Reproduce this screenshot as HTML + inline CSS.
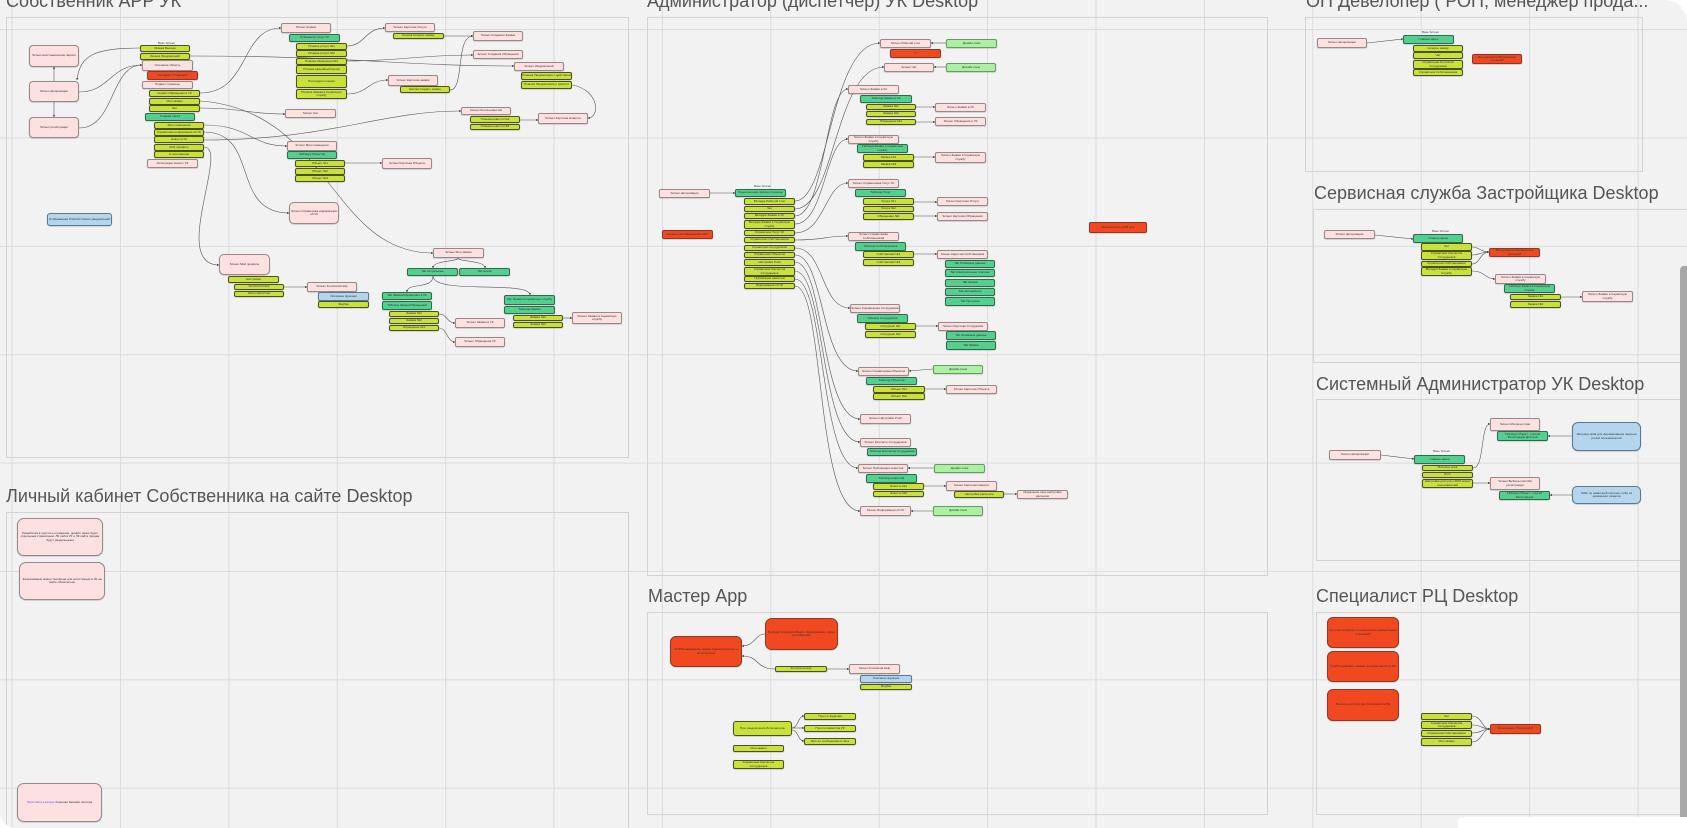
<!DOCTYPE html>
<html><head><meta charset="utf-8">
<style>
html,body{margin:0;padding:0;background:#fff;}
#c{position:relative;width:1687px;height:828px;overflow:hidden;background-color:#f2f2f2;
background-image:linear-gradient(to right,#dcdcdc 1px,transparent 1px),linear-gradient(to bottom,#dcdcdc 1px,transparent 1px);
background-size:108.4px 108.4px;background-position:11.6px 29px;border-radius:0 22px 0 16px;
font-family:"Liberation Sans","Noto Sans CJK SC",sans-serif;}
.f{position:absolute;border:1.5px solid #d4d4d4;box-sizing:border-box;}
.t{position:absolute;font-size:18px;line-height:18px;color:#555;white-space:nowrap;}
.n{position:absolute;box-sizing:border-box;border:1px solid #777;border-radius:2px;font-size:3px;line-height:3.4px;color:#333;display:flex;align-items:center;justify-content:center;text-align:center;overflow:hidden;box-shadow:0 0.5px 1px rgba(0,0,0,.25);}
.p{background:#fde1e1;border-color:#9a8888;}
.y{background:#c9e13a;border-color:#4b5222;}
.g{background:#53cf8e;border-color:#2f6a4c;}
.r{background:#f1481f;border-color:#8a3a2a;}
.l{background:#aaf1a1;border-color:#6a9a66;}
.b{background:#b3d5ee;border-color:#5a7a90;}
.lb{position:absolute;font-size:3px;color:#444;}
svg{position:absolute;left:0;top:0;}
</style></head><body>
<div id="c">
<!-- frames -->
<div class="f" style="left:6px;top:17px;width:623px;height:441px"></div>
<div class="f" style="left:647px;top:17px;width:621px;height:559px"></div>
<div class="f" style="left:1305px;top:17px;width:338px;height:155px"></div>
<div class="f" style="left:1313px;top:209px;width:380px;height:154px"></div>
<div class="f" style="left:1316px;top:399px;width:380px;height:162px"></div>
<div class="f" style="left:6px;top:512px;width:623px;height:330px"></div>
<div class="f" style="left:647px;top:612px;width:621px;height:203px"></div>
<div class="f" style="left:1316px;top:612px;width:380px;height:203px"></div>
<!-- titles -->
<div class="t" style="left:6px;top:-8px">Собственник APP УК</div>
<div class="t" style="left:647px;top:-8px">Администратор (диспетчер) УК Desktop</div>
<div class="t" style="left:1306px;top:-8px">ОП Девелопер ( РОП, менеджер прода...</div>
<div class="t" style="left:1314px;top:184px">Сервисная служба Застройщика Desktop</div>
<div class="t" style="left:1316px;top:375px">Системный Администратор УК Desktop</div>
<div class="t" style="left:6px;top:487px">Личный кабинет Собственника на сайте Desktop</div>
<div class="t" style="left:648px;top:587px">Мастер App</div>
<div class="t" style="left:1316px;top:587px">Специалист РЦ Desktop</div>

<svg width="1687" height="828" viewBox="0 0 1687 828">
<defs><marker id="a" markerWidth="4" markerHeight="4" refX="3.5" refY="2" orient="auto"><path d="M0,0 L4,2 L0,4 z" fill="#444"/></marker></defs>
<g fill="none" stroke="#555" stroke-width="0.6" marker-end="url(#a)">
<!-- frame 1 -->
<path d="M54 81 L54 67"/>
<path d="M54 102 L54 117"/>
<path d="M79 92 C110 92,110 65,142 65"/>
<path d="M79 128 C115 128,110 65,142 65"/>
<path d="M140 48 C95 48,80 55,77 80"/>
<path d="M190 56 C350 56,400 66,514 66"/>
<path d="M200 93 C250 93,240 28,281 28"/>
<path d="M200 101 C330 110,330 253,433 253"/>
<path d="M200 108 C240 108,250 114,285 114"/>
<path d="M204 125 C250 125,250 146,287 146"/>
<path d="M204 132 C260 132,230 213,289 213"/>
<path d="M204 140 C330 140,380 111,461 111"/>
<path d="M204 147 C230 147,170 265,219 265"/>
<path d="M347 46 C365 46,365 28,385 28"/>
<path d="M444 36 L473 36"/>
<path d="M347 61 C400 61,420 55,473 55"/>
<path d="M347 94 C368 94,368 80,388 80"/>
<path d="M450 90 C465 90,455 36,473 36"/>
<path d="M572 85 C600 90,600 118,588 118"/>
<path d="M520 120 L538 120"/>
<path d="M345 163 L382 163"/>
<path d="M284 287 L307 287"/>
<path d="M458 258 C458 262,433 260,433 268"/>
<path d="M458 258 C458 262,485 260,485 268"/>
<path d="M433 276 C433 290,407 282,407 292"/>
<path d="M433 276 C433 295,530 280,530 295"/>
<path d="M439 314 C447 314,447 323,455 323"/>
<path d="M439 328 C447 328,447 342,455 342"/>
<path d="M563 318 L572 318"/>
<!-- admin -->
<path d="M710 193 L735 193"/>
<path d="M795 201 C830 201,830 43,880 43"/>
<path d="M795 209 C835 209,835 67,884 67"/>
<path d="M795 216 C825 216,825 89,848 89"/>
<path d="M795 224 C825 224,825 139,848 139"/>
<path d="M795 233 C825 233,825 183,848 183"/>
<path d="M795 240 C825 240,825 236,848 236"/>
<path d="M795 248 C825 248,820 308,850 308"/>
<path d="M795 255 C825 255,820 371,858 371"/>
<path d="M795 262 C825 262,820 419,860 419"/>
<path d="M795 271 C825 271,820 442,860 442"/>
<path d="M795 279 C825 279,820 468,858 468"/>
<path d="M795 286 C825 286,815 511,860 511"/>
<path d="M946 43 L931 43"/><path d="M946 67 L934 67"/>
<path d="M916 107 L935 107"/><path d="M916 122 L935 122"/>
<path d="M914 157 L935 157"/><path d="M914 202 L937 202"/><path d="M914 216 L937 216"/>
<path d="M906 254 L937 254"/><path d="M916 326 L938 326"/>
<path d="M933 369 L909 371"/><path d="M925 389 L946 389"/>
<path d="M934 468 L908 468"/><path d="M924 486 L946 486"/><path d="M1004 494 L1017 494"/>
<path d="M933 511 L911 511"/>
<!-- OP -->
<path d="M1367 43 L1403 39"/>
<!-- service -->
<path d="M1375 235 L1413 239"/>
<path d="M1472 247 C1480 247,1480 252,1489 252"/>
<path d="M1472 255 C1480 255,1480 252,1489 252"/>
<path d="M1472 264 C1480 264,1480 252,1489 252"/>
<path d="M1472 271 C1485 271,1485 279,1495 279"/>
<path d="M1561 297 L1582 297"/>
<!-- sysadmin -->
<path d="M1381 455 L1414 459"/>
<path d="M1473 468 C1485 468,1480 424,1490 424"/>
<path d="M1473 483 L1490 483"/>
<path d="M1572 436 L1548 436"/>
<path d="M1572 495 L1550 495"/>
<!-- specialist -->
<path d="M1472 716 C1482 716,1482 729,1490 729"/>
<path d="M1472 725 C1482 725,1482 729,1490 729"/>
<path d="M1472 733 C1482 733,1482 729,1490 729"/>
<path d="M1472 742 C1482 742,1482 729,1490 729"/>
<!-- master -->
<path d="M765 634 C755 634,755 646,742 646"/>
<path d="M775 669 C755 669,760 656,742 656"/>
<path d="M827 669 L849 669"/>
<path d="M792 728 C798 728,798 716,804 716"/>
<path d="M792 728 L804 728"/>
<path d="M792 730 C798 730,798 741,804 741"/>
</g>
</svg>

<!-- frame 1 nodes -->
<div class="n p" style="left:29px;top:45px;width:50px;height:22px;border-radius:4px">Screen восстановления пароля</div>
<div class="n p" style="left:29px;top:81px;width:50px;height:21px;border-radius:4px">Screen авторизации</div>
<div class="n p" style="left:29px;top:117px;width:50px;height:21px;border-radius:4px">Screen регистрации</div>
<div class="lb" style="left:158px;top:41px">Base Screen</div>
<div class="n y" style="left:140px;top:45px;width:50px;height:7px">Иконка Выхода</div>
<div class="n y" style="left:140px;top:53px;width:50px;height:7px">Иконка Уведомлений</div>
<div class="n p" style="left:142px;top:60px;width:51px;height:11px">Основная область</div>
<div class="n r" style="left:147px;top:71px;width:51px;height:9px">Что здесь ? Главная?</div>
<div class="n p" style="left:142px;top:81px;width:51px;height:8px">Подвал страницы</div>
<div class="n y" style="left:149px;top:90px;width:51px;height:7px">Сервис Обращения в УК</div>
<div class="n y" style="left:149px;top:98px;width:51px;height:7px">Мои заявки</div>
<div class="n y" style="left:149px;top:105px;width:51px;height:7px">Чат</div>
<div class="n g" style="left:145px;top:113px;width:50px;height:8px">Главная папка</div>
<div class="n y" style="left:154px;top:122px;width:50px;height:7px">Мои помещения</div>
<div class="n y" style="left:154px;top:129px;width:50px;height:7px">Справочная информация об УК</div>
<div class="n y" style="left:154px;top:136px;width:50px;height:7px">Новости УК</div>
<div class="n y" style="left:154px;top:144px;width:50px;height:7px">Мой профиль</div>
<div class="n y" style="left:154px;top:151px;width:50px;height:7px">О приложении</div>
<div class="n p" style="left:147px;top:159px;width:51px;height:9px">Интеграция связи с УК</div>
<div class="n b" style="left:47px;top:213px;width:65px;height:13px;border-radius:3px">Отображение Push'ей Список уведомлений</div>
<div class="n p" style="left:281px;top:23px;width:50px;height:10px">Screen Сервис</div>
<div class="n g" style="left:289px;top:34px;width:51px;height:8px">Рубрикатор услуг УК</div>
<div class="n y" style="left:296px;top:43px;width:51px;height:7px">Плашка услуги №1</div>
<div class="n y" style="left:296px;top:50px;width:51px;height:7px">Плашка услуги №2</div>
<div class="n y" style="left:296px;top:58px;width:51px;height:7px">Плашка обращения №1</div>
<div class="n y" style="left:296px;top:65px;width:51px;height:9px">Плашка аварийный вызов</div>
<div class="n y" style="left:296px;top:75px;width:51px;height:13px">Последняя плашка</div>
<div class="n y" style="left:296px;top:89px;width:51px;height:10px">Плашка Заявка в Сервисную службу</div>
<div class="n p" style="left:285px;top:109px;width:51px;height:9px">Screen Чат</div>
<div class="n p" style="left:287px;top:141px;width:50px;height:10px">Screen Мои помещения</div>
<div class="n g" style="left:287px;top:151px;width:50px;height:8px">Таблица Объектов</div>
<div class="n y" style="left:295px;top:160px;width:50px;height:7px">Объект №1</div>
<div class="n y" style="left:295px;top:168px;width:50px;height:7px">Объект №2</div>
<div class="n y" style="left:295px;top:175px;width:50px;height:7px">Объект №3</div>
<div class="n p" style="left:382px;top:158px;width:50px;height:11px">Screen Карточка Объекта</div>
<div class="n p" style="left:289px;top:202px;width:50px;height:22px;border-radius:5px">Screen Справочная информация об УК</div>
<div class="n p" style="left:219px;top:254px;width:51px;height:21px;border-radius:5px">Screen Мой профиль</div>
<div class="n y" style="left:228px;top:276px;width:51px;height:7px">Настройки</div>
<div class="n y" style="left:234px;top:284px;width:50px;height:6px">Functional Help</div>
<div class="n y" style="left:234px;top:291px;width:50px;height:6px">Настройки Push</div>
<div class="n p" style="left:307px;top:282px;width:50px;height:10px">Screen Functional Help</div>
<div class="n b" style="left:318px;top:292px;width:51px;height:9px">Описание функции</div>
<div class="n y" style="left:318px;top:301px;width:51px;height:7px">Фидбэк</div>
<div class="n p" style="left:385px;top:23px;width:50px;height:9px">Screen Карточка Услуги</div>
<div class="n y" style="left:393px;top:33px;width:51px;height:6px">Кнопка Создать заявку</div>
<div class="n p" style="left:473px;top:31px;width:50px;height:10px">Screen Создания Заявки</div>
<div class="n p" style="left:473px;top:50px;width:50px;height:9px">Screen Создания Обращения</div>
<div class="n p" style="left:514px;top:62px;width:50px;height:9px">Screen Уведомлений</div>
<div class="n y" style="left:521px;top:72px;width:51px;height:8px">Плашка Уведомления с действием</div>
<div class="n y" style="left:521px;top:81px;width:51px;height:8px">Плашка Уведомления о новости</div>
<div class="n p" style="left:388px;top:75px;width:50px;height:11px">Screen Карточка заявки</div>
<div class="n y" style="left:400px;top:86px;width:50px;height:7px">Кнопка Создать заявку</div>
<div class="n p" style="left:461px;top:107px;width:50px;height:8px">Screen Лента новостей</div>
<div class="n y" style="left:470px;top:116px;width:50px;height:7px">Плашка новости №1</div>
<div class="n y" style="left:470px;top:124px;width:50px;height:6px">Плашка новости №2</div>
<div class="n p" style="left:538px;top:113px;width:50px;height:11px">Screen Карточка Новости</div>
<div class="n p" style="left:433px;top:248px;width:51px;height:10px">Screen Мои заявки</div>
<div class="n g" style="left:407px;top:268px;width:51px;height:8px">Tab Актуальные</div>
<div class="n g" style="left:459px;top:268px;width:51px;height:8px">Tab Архив</div>
<div class="n g" style="left:382px;top:292px;width:50px;height:8px">Tab Заявки/Обращения в УК</div>
<div class="n g" style="left:382px;top:301px;width:50px;height:9px">Таблица Заявок/Обращений</div>
<div class="n y" style="left:389px;top:311px;width:50px;height:6px">Заявка №1</div>
<div class="n y" style="left:389px;top:318px;width:50px;height:6px">Заявка №2</div>
<div class="n y" style="left:389px;top:325px;width:50px;height:6px">Обращение №1</div>
<div class="n p" style="left:455px;top:318px;width:50px;height:10px">Screen Заявки в УК</div>
<div class="n p" style="left:455px;top:337px;width:50px;height:10px">Screen Обращения УК</div>
<div class="n g" style="left:504px;top:295px;width:51px;height:10px">Tab Заявки в Сервисную службу</div>
<div class="n g" style="left:504px;top:306px;width:51px;height:8px">Таблица Заявок</div>
<div class="n y" style="left:513px;top:315px;width:50px;height:6px">Заявка №1</div>
<div class="n y" style="left:513px;top:322px;width:50px;height:6px">Заявка №2</div>
<div class="n p" style="left:572px;top:312px;width:50px;height:12px">Screen Заявки в Сервисную службу</div>

<!-- Личный кабинет -->
<div class="n p" style="left:17px;top:518px;width:86px;height:38px;border-radius:7px">Разработка в простого отражения, дизайн также будет отдельным страничным. ЛК сайта УК и ЛК сайта продаж будут раздельными</div>
<div class="n p" style="left:19px;top:562px;width:86px;height:38px;border-radius:7px">Запрашиваем номер телефона для регистрации в ЛК на сайте обязательно</div>
<div class="n p" style="left:17px;top:783px;width:85px;height:39px;border-radius:7px"><span style="color:#55f">https://docs.example</span>&nbsp;Хорошая базовая палитра</div>

<!-- admin -->
<div class="n p" style="left:659px;top:189px;width:51px;height:9px">Screen авторизации</div>
<div class="n r" style="left:662px;top:230px;width:51px;height:9px">Справочник Обращений в ЕГ?</div>
<div class="lb" style="left:754px;top:184px">Base Screen</div>
<div class="n g" style="left:735px;top:189px;width:51px;height:8px">Переключение Шапка страницы</div>
<div class="n y" style="left:744px;top:198px;width:51px;height:7px">Вкладка Рабочий стол</div>
<div class="n y" style="left:744px;top:206px;width:51px;height:6px">Чат</div>
<div class="n y" style="left:744px;top:213px;width:51px;height:6px">Вкладка Заявки в УК</div>
<div class="n y" style="left:744px;top:220px;width:51px;height:9px">Вкладка Заявки в Сервисную службу</div>
<div class="n y" style="left:744px;top:230px;width:51px;height:6px">Справочник Услуг УК</div>
<div class="n y" style="left:744px;top:237px;width:51px;height:6px">Справочник Собственников</div>
<div class="n y" style="left:744px;top:245px;width:51px;height:6px">Справочник Сотрудников</div>
<div class="n y" style="left:744px;top:252px;width:51px;height:6px">Справочник Объектов</div>
<div class="n y" style="left:744px;top:259px;width:51px;height:7px">Настройки Push</div>
<div class="n y" style="left:744px;top:267px;width:51px;height:9px">Справочник Контактов Сотрудников</div>
<div class="n y" style="left:744px;top:276px;width:51px;height:6px">Публикация новостей</div>
<div class="n y" style="left:744px;top:283px;width:51px;height:6px">Информация об УК</div>
<div class="n p" style="left:880px;top:39px;width:51px;height:9px">Screen Рабочий стол</div>
<div class="n r" style="left:890px;top:49px;width:51px;height:9px">?</div>
<div class="n l" style="left:946px;top:39px;width:51px;height:9px">Дизайн схем</div>
<div class="n p" style="left:884px;top:63px;width:50px;height:9px">Screen Чат</div>
<div class="n l" style="left:946px;top:63px;width:50px;height:9px">Дизайн схем</div>
<div class="n p" style="left:848px;top:85px;width:51px;height:9px">Screen Заявки в УК</div>
<div class="n g" style="left:860px;top:95px;width:52px;height:8px">Таблица Заявок в УК</div>
<div class="n y" style="left:866px;top:104px;width:50px;height:6px">Заявка №1</div>
<div class="n y" style="left:866px;top:111px;width:50px;height:6px">Заявка №2</div>
<div class="n y" style="left:866px;top:119px;width:50px;height:6px">Обращение №1</div>
<div class="n p" style="left:935px;top:103px;width:51px;height:9px">Screen Заявки в УК</div>
<div class="n p" style="left:935px;top:117px;width:51px;height:9px">Screen Обращения в УК</div>
<div class="n p" style="left:848px;top:135px;width:51px;height:9px">Screen Заявки в Сервисную службу</div>
<div class="n g" style="left:857px;top:144px;width:51px;height:9px">Таблица Заявки в Сервисную службу</div>
<div class="n y" style="left:863px;top:154px;width:51px;height:7px">Заявка №1</div>
<div class="n y" style="left:863px;top:161px;width:51px;height:7px">Заявка №2</div>
<div class="n p" style="left:935px;top:152px;width:51px;height:11px">Screen Заявки в Сервисную службу</div>
<div class="n p" style="left:848px;top:179px;width:51px;height:9px">Screen Справочника Услуг УК</div>
<div class="n g" style="left:855px;top:189px;width:51px;height:8px">Таблица Услуг</div>
<div class="n y" style="left:863px;top:198px;width:51px;height:7px">Услуга №1</div>
<div class="n y" style="left:863px;top:206px;width:51px;height:6px">Услуга №2</div>
<div class="n y" style="left:863px;top:213px;width:51px;height:7px">Обращение №1</div>
<div class="n p" style="left:937px;top:197px;width:51px;height:9px">Screen Карточки Услуги</div>
<div class="n p" style="left:937px;top:212px;width:51px;height:9px">Screen Карточки Обращения</div>
<div class="n p" style="left:848px;top:232px;width:51px;height:9px">Screen Справочника Собственников</div>
<div class="n g" style="left:855px;top:242px;width:51px;height:9px">Таблица Собственников</div>
<div class="n y" style="left:863px;top:251px;width:51px;height:7px">Собственник №1</div>
<div class="n y" style="left:863px;top:259px;width:51px;height:7px">Собственник №2</div>
<div class="n p" style="left:937px;top:250px;width:51px;height:9px">Screen Карточки Собственника</div>
<div class="n g" style="left:945px;top:260px;width:50px;height:8px">Tab Основные данные</div>
<div class="n g" style="left:945px;top:269px;width:50px;height:8px">Tab Коммунальные платежи</div>
<div class="n g" style="left:945px;top:279px;width:50px;height:8px">Tab Заявки</div>
<div class="n g" style="left:945px;top:288px;width:50px;height:8px">Tab Автомобили</div>
<div class="n g" style="left:945px;top:297px;width:50px;height:9px">Tab Пропуска</div>
<div class="n p" style="left:850px;top:304px;width:50px;height:9px">Screen Справочника Сотрудников</div>
<div class="n g" style="left:857px;top:314px;width:51px;height:9px">Таблица Сотрудников</div>
<div class="n y" style="left:865px;top:323px;width:51px;height:7px">Сотрудник №1</div>
<div class="n y" style="left:865px;top:331px;width:51px;height:7px">Сотрудник №2</div>
<div class="n p" style="left:938px;top:322px;width:50px;height:9px">Screen Карточки Сотрудника</div>
<div class="n g" style="left:946px;top:331px;width:50px;height:9px">Tab Основные данные</div>
<div class="n g" style="left:946px;top:341px;width:50px;height:9px">Tab Заявки</div>
<div class="n p" style="left:858px;top:367px;width:51px;height:9px">Screen Справочника Объектов</div>
<div class="n l" style="left:933px;top:365px;width:50px;height:9px">Дизайн схем</div>
<div class="n g" style="left:866px;top:377px;width:51px;height:8px">Таблица Объектов</div>
<div class="n y" style="left:873px;top:386px;width:52px;height:7px">Объект №1</div>
<div class="n y" style="left:873px;top:393px;width:52px;height:7px">Объект №2</div>
<div class="n p" style="left:946px;top:385px;width:51px;height:9px">Screen Карточки Объекта</div>
<div class="n p" style="left:860px;top:414px;width:51px;height:10px">Screen Настройки Push</div>
<div class="n p" style="left:860px;top:438px;width:51px;height:9px">Screen Контакты Сотрудников</div>
<div class="n g" style="left:867px;top:448px;width:50px;height:8px">Таблица Контактов Сотрудников</div>
<div class="n p" style="left:858px;top:464px;width:50px;height:9px">Screen Публикации новостей</div>
<div class="n l" style="left:934px;top:464px;width:51px;height:9px">Дизайн схем</div>
<div class="n g" style="left:866px;top:474px;width:51px;height:9px">Таблица новостей</div>
<div class="n y" style="left:873px;top:483px;width:51px;height:7px">Новость №1</div>
<div class="n y" style="left:873px;top:491px;width:51px;height:6px">Новость №2</div>
<div class="n p" style="left:946px;top:481px;width:51px;height:10px">Screen Карточки Новости</div>
<div class="n y" style="left:954px;top:491px;width:50px;height:7px">Настройка рассылки</div>
<div class="n p" style="left:1017px;top:490px;width:51px;height:9px">Модальное окно настройки рассылки</div>
<div class="n p" style="left:860px;top:506px;width:51px;height:10px">Screen Информация об УК</div>
<div class="n l" style="left:933px;top:506px;width:50px;height:10px">Дизайн схем</div>
<div class="n r" style="left:1089px;top:222px;width:58px;height:11px">Безопасность АРМ для</div>

<!-- ОП -->
<div class="n p" style="left:1317px;top:38px;width:50px;height:10px">Screen авторизации</div>
<div class="lb" style="left:1422px;top:30px">Base Screen</div>
<div class="n g" style="left:1403px;top:35px;width:51px;height:9px">Главное меню</div>
<div class="n y" style="left:1413px;top:45px;width:50px;height:7px">Создать заявку</div>
<div class="n y" style="left:1413px;top:52px;width:50px;height:7px">Чат</div>
<div class="n y" style="left:1413px;top:60px;width:50px;height:9px">Справочник Контактов Сотрудников</div>
<div class="n y" style="left:1413px;top:69px;width:50px;height:7px">Справочник Собственников</div>
<div class="n r" style="left:1472px;top:54px;width:50px;height:10px">Все решается Битриксом в срочном?</div>

<!-- Сервисная -->
<div class="n p" style="left:1324px;top:230px;width:51px;height:9px">Screen авторизации</div>
<div class="lb" style="left:1432px;top:229px">Base Screen</div>
<div class="n g" style="left:1413px;top:234px;width:50px;height:9px">Главное меню</div>
<div class="n y" style="left:1421px;top:243px;width:51px;height:8px">Чат</div>
<div class="n y" style="left:1421px;top:251px;width:51px;height:9px">Справочник Контактов Сотрудников</div>
<div class="n y" style="left:1421px;top:261px;width:51px;height:6px">Справочник Собственников</div>
<div class="n y" style="left:1421px;top:267px;width:51px;height:9px">Вкладка Заявки в Сервисную Службу</div>
<div class="n r" style="left:1489px;top:248px;width:51px;height:9px">Все решается Битриксом в срочном?</div>
<div class="n p" style="left:1495px;top:274px;width:51px;height:10px">Screen Заявки в Сервисную службу</div>
<div class="n g" style="left:1504px;top:284px;width:51px;height:9px">Таблица Заявок в Сервисную службу</div>
<div class="n y" style="left:1510px;top:294px;width:51px;height:6px">Заявка №1</div>
<div class="n y" style="left:1510px;top:301px;width:51px;height:7px">Заявка №2</div>
<div class="n p" style="left:1582px;top:291px;width:51px;height:11px">Screen Заявки в Сервисную службу</div>

<!-- Системный -->
<div class="n p" style="left:1329px;top:450px;width:52px;height:10px">Screen авторизации</div>
<div class="lb" style="left:1433px;top:449px">Base Screen</div>
<div class="n g" style="left:1414px;top:455px;width:51px;height:9px">Главное меню</div>
<div class="n y" style="left:1422px;top:465px;width:51px;height:6px">Матрица прав</div>
<div class="n y" style="left:1422px;top:472px;width:51px;height:6px">Логи</div>
<div class="n y" style="left:1422px;top:479px;width:51px;height:9px">Настройка доступа к АРМ новых пользователей</div>
<div class="n p" style="left:1490px;top:418px;width:50px;height:13px">Screen Матрица прав</div>
<div class="n g" style="left:1497px;top:431px;width:51px;height:10px">Таблица Объект - способ Регистрации Доступа</div>
<div class="n b" style="left:1572px;top:422px;width:69px;height:29px;border-radius:6px">Матрица прав для формирования перечня ролей пользователей</div>
<div class="n p" style="left:1490px;top:477px;width:50px;height:13px">Screen Выбора способа регистрации</div>
<div class="n g" style="left:1499px;top:491px;width:51px;height:9px">Таблица Объект - способ Регистрации</div>
<div class="n b" style="left:1572px;top:486px;width:69px;height:18px;border-radius:5px">Либо по заявочной системе, либо из домашнего раздела</div>

<!-- Специалист -->
<div class="n r" style="left:1327px;top:617px;width:72px;height:31px;border-radius:6px">Что ещё требуется от начисления коммунальных платежей?</div>
<div class="n r" style="left:1327px;top:651px;width:72px;height:31px;border-radius:6px">В АРМ направить заявки по вопросам РЦ в УК</div>
<div class="n r" style="left:1327px;top:689px;width:72px;height:32px;border-radius:6px">Вопросы доступа для Специалиста РЦ</div>
<div class="n y" style="left:1421px;top:713px;width:51px;height:7px">Чат</div>
<div class="n y" style="left:1421px;top:721px;width:51px;height:8px">Справочник Контактов Сотрудников</div>
<div class="n y" style="left:1421px;top:730px;width:51px;height:7px">Справочник Собственников</div>
<div class="n y" style="left:1421px;top:738px;width:51px;height:8px">Мои заявки</div>
<div class="n r" style="left:1490px;top:724px;width:51px;height:10px">Интеграция с Битрикс24?</div>

<!-- Мастер -->
<div class="n r" style="left:670px;top:636px;width:72px;height:31px;border-radius:6px">В АРМ направлять заявки Администратору и исполнителю</div>
<div class="n r" style="left:765px;top:618px;width:73px;height:32px;border-radius:7px">Возбудит функции Общего функционала + фото для Мастера</div>
<div class="n y" style="left:775px;top:666px;width:52px;height:6px">Functional Help</div>
<div class="n p" style="left:849px;top:664px;width:51px;height:10px">Screen Functional Help</div>
<div class="n b" style="left:860px;top:675px;width:52px;height:8px">Описание функции</div>
<div class="n y" style="left:860px;top:684px;width:52px;height:6px">Фидбэк</div>
<div class="n y" style="left:733px;top:721px;width:59px;height:15px;border-radius:3px">Пуш уведомления Исполнителю</div>
<div class="n y" style="left:804px;top:713px;width:52px;height:7px">Пуш по Задачам</div>
<div class="n y" style="left:804px;top:725px;width:52px;height:7px">Пуш по Новостям УК</div>
<div class="n y" style="left:804px;top:738px;width:52px;height:7px">Пуш по сообщениям в Чате</div>
<div class="n y" style="left:733px;top:745px;width:51px;height:7px">Мои заявки</div>
<div class="n y" style="left:733px;top:760px;width:51px;height:9px">Справочник Контактов Сотрудников</div>

<!-- scrollbar & corner -->
<div style="position:absolute;left:1680px;top:266px;width:7px;height:556px;background:#a8a8a8;border-radius:4px 0 0 4px"></div>
<div style="position:absolute;left:1458px;top:817px;width:229px;height:11px;background:#fff;border-radius:6px 0 0 0"></div>
</div>
</body></html>
